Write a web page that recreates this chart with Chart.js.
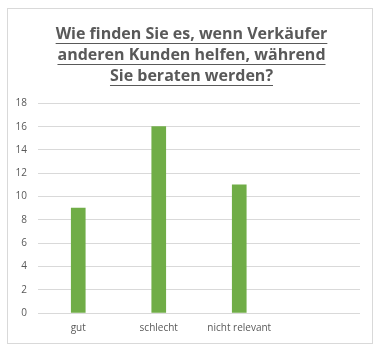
<!DOCTYPE html>
<html>
<head>
<meta charset="utf-8">
<script src="https://cdn.jsdelivr.net/npm/chart.js@4"></script>
<style>
  html, body { margin: 0; padding: 0; background: #fff; }
  #wrap { width: 383px; height: 354px; }
</style>
</head>
<body>
<div id="wrap"><canvas id="canvas" width="383" height="354"></canvas></div>
<script>
const categories = ["gut", "schlecht", "nicht relevant", ""];
const answers = [9, 16, 11, null];
const titleLines = ["Wie finden Sie es, wenn Verkäufer", "anderen Kunden helfen, während", "Sie beraten werden?"];
const yMin = 0;
const yMax = 18;
const yStep = 2;

const textColor = "#595959";
const gridColor = "#d9d9d9";

// frame around the chart + underline under the title lines
const framePlugin = {
  id: "frame",
  beforeDraw(chart) {
    const ctx = chart.ctx;
    ctx.save();
    ctx.fillStyle = "#fff";
    ctx.fillRect(0, 0, chart.width, chart.height);
    ctx.strokeStyle = gridColor;
    ctx.lineWidth = 1;
    ctx.strokeRect(7.5, 8.5, 365, 335);
    ctx.restore();
  },
  afterDraw(chart) {
    const tb = chart.titleBlock;
    if (!tb) return;
    const opts = chart.options.plugins.title;
    const font = Chart.helpers.toFont(opts.font);
    const pad = Chart.helpers.toPadding(opts.padding);
    const ctx = chart.ctx;
    ctx.save();
    ctx.font = font.string;
    ctx.strokeStyle = textColor;
    ctx.lineWidth = 1;
    const mid = tb.left + tb.width / 2;
    titleLines.forEach((line, i) => {
      const w = ctx.measureText(line).width;
      const y = Math.round(tb.top + pad.top + font.lineHeight / 2 + i * font.lineHeight + font.size * 0.55) + 0.5;
      ctx.beginPath();
      ctx.moveTo(mid - w / 2, y);
      ctx.lineTo(mid + w / 2, y);
      ctx.stroke();
    });
    ctx.restore();
  }
};

new Chart(document.getElementById("canvas").getContext("2d"), {
  type: "bar",
  data: {
    labels: categories,
    datasets: [{
      label: "Antworten",
      data: answers,
      backgroundColor: "#70AD47",
      borderWidth: 0,
      barThickness: 14
    }]
  },
  options: {
    responsive: false,
    animation: false,
    devicePixelRatio: 1,
    layout: { padding: { left: 0, right: 0, top: 0, bottom: 0 } },
    plugins: {
      legend: { display: false },
      tooltip: { enabled: false },
      title: {
        display: true,
        text: titleLines,
        color: textColor,
        font: { family: "'Open Sans', sans-serif", size: 16, weight: "bold", lineHeight: 1.3 },
        padding: { top: 24, bottom: 17 }
      }
    },
    scales: {
      x: {
        grid: { display: false, drawTicks: false },
        border: { display: false },
        ticks: {
          color: textColor,
          font: { family: "'Open Sans', sans-serif", size: 10 },
          padding: 9,
          maxRotation: 0,
          autoSkip: false
        },
        afterFit(s) { s.height = 41; }
      },
      y: {
        min: yMin,
        max: yMax,
        grid: { color: gridColor, drawTicks: false },
        border: { display: false },
        ticks: {
          stepSize: yStep,
          color: textColor,
          font: { family: "'Open Sans', sans-serif", size: 10 },
          padding: 11
        },
        afterFit(s) { s.width = 38; }
      },
      // empty right-hand margin so the plot ends where the reference does
      yRight: {
        position: "right",
        min: yMin,
        max: yMax,
        grid: { display: false, drawTicks: false },
        border: { display: false },
        ticks: { display: false },
        afterFit(s) { s.width = 23; }
      }
    }
  },
  plugins: [framePlugin]
});
</script>
</body>
</html>
